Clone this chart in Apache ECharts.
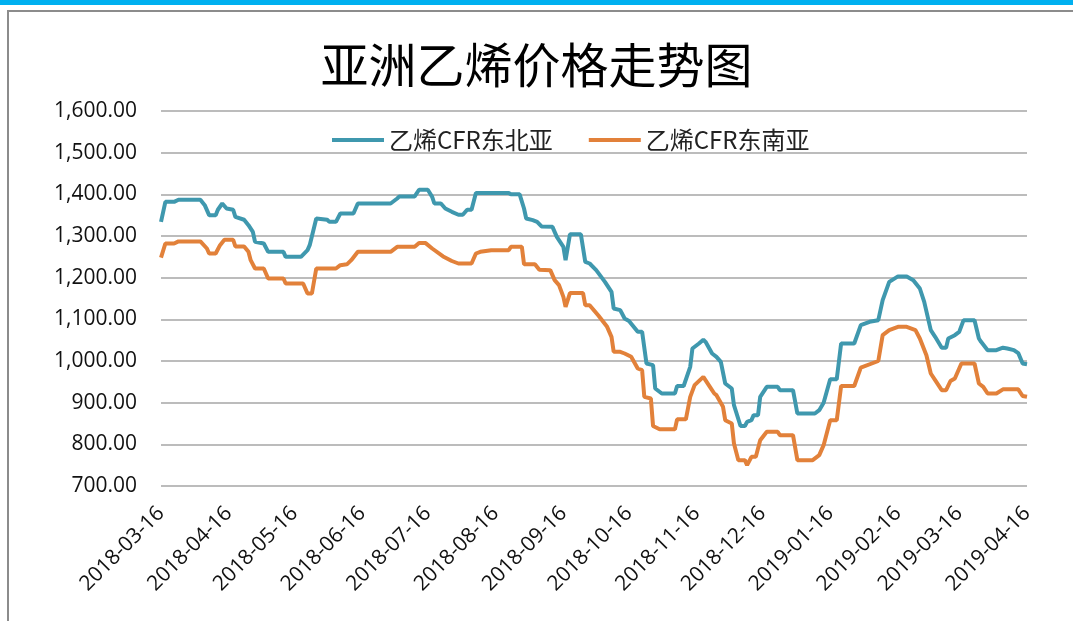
<!DOCTYPE html>
<html>
<head>
<meta charset="utf-8">
<script src="https://cdn.jsdelivr.net/npm/echarts@6/dist/echarts.min.js"></script>
<style>
  html, body { margin: 0; padding: 0; background: #fff; }
  #result { width: 1073px; height: 621px; }
</style>
</head>
<body>
<div id="result"></div>
<script>
// 标题与图例
var titleText = '亚洲乙烯价格走势图';
var seriesNames = ['乙烯CFR东北亚', '乙烯CFR东南亚'];

// X轴刻度标签（每月16日）
var tickDates = ['2018-03-16', '2018-04-16', '2018-05-16', '2018-06-16', '2018-07-16', '2018-08-16',
    '2018-09-16', '2018-10-16', '2018-11-16', '2018-12-16', '2019-01-16', '2019-02-16',
    '2019-03-16', '2019-04-16'];

// 乙烯CFR东北亚
var neDates = ['2018-03-16', '2018-03-18', '2018-03-22', '2018-03-24', '2018-04-03', '2018-04-05', '2018-04-07',
    '2018-04-10', '2018-04-11', '2018-04-13', '2018-04-15', '2018-04-18', '2018-04-19', '2018-04-23',
    '2018-04-25', '2018-04-27', '2018-04-28', '2018-05-02', '2018-05-04', '2018-05-11', '2018-05-12',
    '2018-05-19', '2018-05-22', '2018-05-23', '2018-05-26', '2018-05-31', '2018-06-01', '2018-06-04',
    '2018-06-06', '2018-06-12', '2018-06-14', '2018-06-29', '2018-07-02', '2018-07-03', '2018-07-10',
    '2018-07-12', '2018-07-16', '2018-07-18', '2018-07-19', '2018-07-22', '2018-07-24', '2018-07-27',
    '2018-07-30', '2018-08-01', '2018-08-03', '2018-08-05', '2018-08-07', '2018-08-22', '2018-08-23',
    '2018-08-27', '2018-08-29', '2018-08-30', '2018-09-02', '2018-09-04', '2018-09-06', '2018-09-11',
    '2018-09-13', '2018-09-16', '2018-09-17', '2018-09-19', '2018-09-24', '2018-09-26', '2018-09-28',
    '2018-10-01', '2018-10-05', '2018-10-08', '2018-10-09', '2018-10-12', '2018-10-14', '2018-10-16',
    '2018-10-20', '2018-10-22', '2018-10-24', '2018-10-27', '2018-10-28', '2018-10-31', '2018-11-06',
    '2018-11-07', '2018-11-10', '2018-11-13', '2018-11-14', '2018-11-17', '2018-11-19', '2018-11-20',
    '2018-11-23', '2018-11-25', '2018-11-27', '2018-11-29', '2018-12-02', '2018-12-03', '2018-12-06',
    '2018-12-08', '2018-12-09', '2018-12-11', '2018-12-12', '2018-12-14', '2018-12-15', '2018-12-18',
    '2018-12-23', '2018-12-24', '2018-12-30', '2019-01-01', '2019-01-09', '2019-01-11', '2019-01-13',
    '2019-01-16', '2019-01-19', '2019-01-21', '2019-01-27', '2019-01-30', '2019-02-03', '2019-02-07',
    '2019-02-09', '2019-02-12', '2019-02-16', '2019-02-20', '2019-02-23', '2019-02-26', '2019-02-28',
    '2019-03-03', '2019-03-05', '2019-03-08', '2019-03-10', '2019-03-11', '2019-03-14', '2019-03-16',
    '2019-03-18', '2019-03-23', '2019-03-25', '2019-03-26', '2019-03-29', '2019-04-02', '2019-04-05',
    '2019-04-07', '2019-04-10', '2019-04-12', '2019-04-14', '2019-04-16'];
var neValues = [1334, 1382, 1382, 1387, 1387, 1374, 1350,
    1350, 1363, 1378, 1366, 1363, 1346, 1339,
    1326, 1310, 1286, 1282, 1262, 1262, 1250,
    1250, 1266, 1278, 1342, 1339, 1334, 1334,
    1354, 1354, 1378, 1378, 1390, 1395, 1395,
    1411, 1411, 1394, 1378, 1378, 1366, 1358,
    1351, 1351, 1363, 1363, 1403, 1403, 1400,
    1400, 1366, 1342, 1338, 1334, 1323, 1322,
    1298, 1274, 1242, 1304, 1304, 1238, 1234,
    1218, 1190, 1166, 1126, 1122, 1102, 1096,
    1070, 1070, 994, 990, 934, 922, 922,
    940, 940, 986, 1030, 1042, 1051, 1046,
    1018, 1010, 998, 946, 934, 894, 844,
    844, 854, 858, 870, 870, 914, 938,
    938, 930, 930, 874, 874, 882, 900,
    956, 956, 1042, 1042, 1086, 1094, 1098,
    1146, 1190, 1203, 1203, 1194, 1174, 1142,
    1074, 1058, 1032, 1032, 1054, 1062, 1070,
    1098, 1098, 1054, 1046, 1026, 1026, 1032,
    1030, 1026, 1019, 994, 992];

// 乙烯CFR东南亚
var seDates = ['2018-03-16', '2018-03-18', '2018-03-22', '2018-03-24', '2018-04-03', '2018-04-06', '2018-04-07',
    '2018-04-10', '2018-04-12', '2018-04-14', '2018-04-18', '2018-04-19', '2018-04-23', '2018-04-25',
    '2018-04-26', '2018-04-28', '2018-05-02', '2018-05-04', '2018-05-11', '2018-05-12', '2018-05-20',
    '2018-05-22', '2018-05-24', '2018-05-26', '2018-06-04', '2018-06-06', '2018-06-09', '2018-06-11',
    '2018-06-14', '2018-06-29', '2018-07-02', '2018-07-10', '2018-07-12', '2018-07-15', '2018-07-18',
    '2018-07-23', '2018-07-27', '2018-07-30', '2018-08-05', '2018-08-07', '2018-08-09', '2018-08-14',
    '2018-08-22', '2018-08-23', '2018-08-28', '2018-08-29', '2018-09-03', '2018-09-05', '2018-09-10',
    '2018-09-12', '2018-09-14', '2018-09-16', '2018-09-17', '2018-09-19', '2018-09-25', '2018-09-26',
    '2018-09-28', '2018-10-02', '2018-10-06', '2018-10-08', '2018-10-09', '2018-10-12', '2018-10-14',
    '2018-10-17', '2018-10-20', '2018-10-22', '2018-10-23', '2018-10-26', '2018-10-27', '2018-10-30',
    '2018-11-06', '2018-11-07', '2018-11-11', '2018-11-13', '2018-11-15', '2018-11-19', '2018-11-22',
    '2018-11-24', '2018-11-25', '2018-11-28', '2018-11-29', '2018-12-02', '2018-12-03', '2018-12-05',
    '2018-12-08', '2018-12-09', '2018-12-11', '2018-12-13', '2018-12-15', '2018-12-18', '2018-12-23',
    '2018-12-24', '2018-12-30', '2019-01-01', '2019-01-08', '2019-01-11', '2019-01-13', '2019-01-16',
    '2019-01-19', '2019-01-21', '2019-01-27', '2019-01-30', '2019-02-07', '2019-02-09', '2019-02-12',
    '2019-02-16', '2019-02-20', '2019-02-24', '2019-02-26', '2019-03-01', '2019-03-03', '2019-03-05',
    '2019-03-08', '2019-03-10', '2019-03-12', '2019-03-14', '2019-03-17', '2019-03-23', '2019-03-25',
    '2019-03-27', '2019-03-29', '2019-04-02', '2019-04-05', '2019-04-12', '2019-04-14', '2019-04-16'];
var seValues = [1248, 1282, 1282, 1287, 1287, 1270, 1258,
    1258, 1278, 1291, 1291, 1275, 1275, 1262,
    1242, 1222, 1222, 1198, 1198, 1186, 1186,
    1162, 1162, 1222, 1222, 1230, 1232, 1242,
    1262, 1262, 1274, 1274, 1283, 1283, 1270,
    1251, 1240, 1234, 1234, 1258, 1262, 1266,
    1266, 1274, 1274, 1232, 1232, 1219, 1218,
    1194, 1182, 1154, 1130, 1163, 1163, 1134,
    1134, 1109, 1082, 1058, 1022, 1022, 1018,
    1010, 982, 978, 914, 910, 844, 836,
    836, 860, 860, 914, 942, 962, 938,
    922, 918, 890, 858, 850, 802, 762,
    762, 750, 770, 770, 810, 830, 830,
    822, 822, 762, 762, 774, 798, 858,
    858, 940, 940, 984, 1000, 1062, 1074,
    1082, 1082, 1074, 1054, 1014, 970, 954,
    930, 930, 952, 958, 994, 994, 946,
    938, 922, 922, 932, 932, 916, 914];

// Y轴范围
var yMin = 700, yMax = 1600, yStep = 100;

function pairs(dates, values) {
    return dates.map(function (d, i) { return [d, values[i]]; });
}
function ts(s) {
    var p = s.split('-');
    return new Date(+p[0], +p[1] - 1, +p[2]).getTime();
}

var option = {
    animation: false,
    backgroundColor: '#fff',
    color: ['#3f98ae', '#e2813a'],
    // ---- 外框 ----
    graphic: [
        { type: 'rect', shape: { x: 0, y: 0, width: 1073, height: 5 }, style: { fill: '#00b0f0' }, silent: true },
        { type: 'rect', shape: { x: 8, y: 11, width: 1100, height: 700 },
          style: { fill: 'none', stroke: '#8c8c8c', lineWidth: 2 }, silent: true }
    ],
    // ---- 标题 ----
    title: {
        text: titleText,
        left: 'center',
        top: 36,
        textStyle: {
            fontFamily: 'Noto Sans CJK SC',
            fontSize: 48,
            fontWeight: 'normal',
            color: '#000'
        }
    },
    // ---- 图例 ----
    legend: {
        left: 327,
        top: 123,
        icon: 'rect',
        itemWidth: 52,
        itemHeight: 4,
        itemGap: 36,
        textStyle: {
            fontFamily: 'Noto Sans CJK SC',
            fontSize: 24,
            color: '#222'
        },
        data: seriesNames
    },
    grid: {
        left: 161,
        right: 46,
        top: 111,
        bottom: 135
    },
    // ---- X轴 ----
    xAxis: {
        type: 'time',
        min: tickDates[0],
        max: tickDates[tickDates.length - 1],
        axisLine: { show: false },
        axisTick: { show: false },
        splitLine: { show: false },
        axisLabel: {
            customValues: tickDates.map(ts),
            rotate: 45,
            margin: 24,
            fontFamily: 'Open Sans',
            fontSize: 21,
            color: '#111',
            formatter: '{yyyy}-{MM}-{dd}',
            hideOverlap: false
        }
    },
    // ---- Y轴 ----
    yAxis: {
        type: 'value',
        min: yMin,
        max: yMax,
        interval: yStep,
        axisLine: { show: false },
        axisTick: { show: false },
        axisLabel: {
            margin: 24,
            fontFamily: 'Open Sans',
            fontSize: 21,
            color: '#111',
            formatter: function (v) {
                return v.toLocaleString('en-US', { minimumFractionDigits: 2, maximumFractionDigits: 2 });
            }
        },
        splitLine: {
            show: true,
            lineStyle: { color: '#a6a6a6', width: 1.5 }
        }
    },
    series: [
        {
            name: seriesNames[0],
            type: 'line',
            showSymbol: false,
            lineStyle: { width: 4 },
            data: pairs(neDates, neValues)
        },
        {
            name: seriesNames[1],
            type: 'line',
            showSymbol: false,
            lineStyle: { width: 4 },
            data: pairs(seDates, seValues)
        }
    ]
};

var myResult = echarts.init(document.getElementById('result'));
myResult.setOption(option);
</script>
</body>
</html>
